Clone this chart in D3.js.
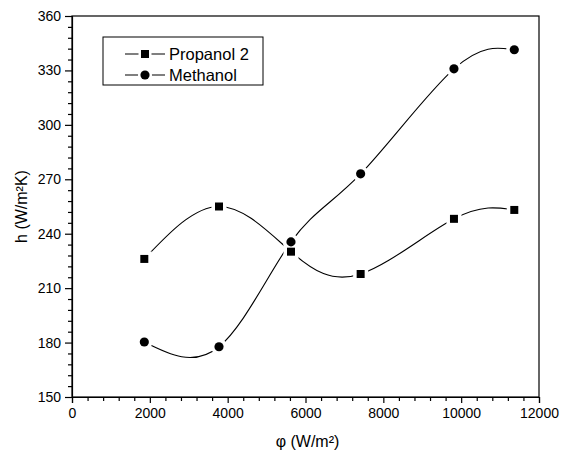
<!DOCTYPE html>
<html lang="en">
<head>
<meta charset="UTF-8">
<title>h vs heat flux</title>
<script src="https://cdn.jsdelivr.net/npm/d3@7"></script>
<style>
  body { margin: 0; background: #fff; }
  text { font-family: Arial, "Liberation Sans", sans-serif; fill: #000; }
  .curve { fill: none; stroke: #000; stroke-width: 1.1px; }
</style>
</head>
<body>
<script>
// data
var fluxValues = [1858, 3777, 5627, 7417, 9815, 11365];
var propanolValues = [226.1, 255.0, 230.1, 217.8, 248.2, 253.1];
var methanolValues = [180.3, 177.7, 235.5, 273.0, 330.9, 341.4];
var seriesNames = ["Propanol 2", "Methanol"];
var xTicks = [0, 2000, 4000, 6000, 8000, 10000, 12000];
var yTicks = [150, 180, 210, 240, 270, 300, 330, 360];

var W = 564, H = 454;
var margin = {top: 16, right: 25, bottom: 57, left: 72};
var width = W - margin.left - margin.right,
    height = H - margin.top - margin.bottom;

var x = d3.scaleLinear().domain([0, 12000]).range([0, width]);
var y = d3.scaleLinear().domain([150, 360]).range([height, 0]);

var svg = d3.select("body").append("svg")
    .attr("width", W).attr("height", H);
var g = svg.append("g")
    .attr("transform", "translate(" + margin.left + "," + margin.top + ")");

// frame
g.append("rect")
    .attr("width", width).attr("height", height)
    .attr("fill", "none").attr("stroke", "#000").attr("stroke-width", 1.2);

// x axis: major + minor ticks
var xMinor = d3.range(0, 12001, 400).filter(function(v) { return v % 2000 !== 0; });
var xAxis = g.append("g").attr("transform", "translate(0," + height + ")");
xAxis.call(d3.axisBottom(x).tickValues(xTicks).tickSize(6).tickPadding(5).tickFormat(d3.format("d")));
xAxis.append("g").call(d3.axisBottom(x).tickValues(xMinor).tickSize(4).tickFormat(""))
    .select(".domain").remove();

// y axis
var yMinor = d3.range(150, 361, 6).filter(function(v) { return (v - 150) % 30 !== 0; });
var yAxis = g.append("g");
yAxis.call(d3.axisLeft(y).tickValues(yTicks).tickSize(7).tickPadding(4));
yAxis.append("g").call(d3.axisLeft(y).tickValues(yMinor).tickSize(4).tickFormat(""))
    .select(".domain").remove();

g.selectAll(".domain").attr("stroke-width", 1.2);
g.selectAll(".tick line").attr("stroke-width", 1.2);
g.selectAll(".tick text").style("font-size", "14px").attr("fill", "#000");

// axis titles
svg.append("text")
    .attr("x", margin.left + width / 2 + 2).attr("y", 447)
    .attr("text-anchor", "middle").style("font-size", "16px")
    .text("φ (W/m²)");
svg.append("text")
    .attr("transform", "translate(27," + (margin.top + height / 2) + ") rotate(-90)")
    .attr("text-anchor", "middle").style("font-size", "16px")
    .text("h (W/m²K)");

// curves
var series = [
  {name: seriesNames[0], values: propanolValues, shape: d3.symbolSquare, size: 64},
  {name: seriesNames[1], values: methanolValues, shape: d3.symbolCircle, size: 66}
];

var line = d3.line()
    .x(function(d) { return x(d[0]); })
    .y(function(d) { return y(d[1]); })
    .curve(d3.curveNatural);

series.forEach(function(s) {
  g.append("path")
      .datum(d3.zip(fluxValues, s.values))
      .attr("class", "curve")
      .attr("d", line);
});

// white halos give the small gaps next to the markers
var halo = g.append("g"), marks = g.append("g");
series.forEach(function(s) {
  var pts = d3.zip(fluxValues, s.values);
  var sym = d3.symbol().type(s.shape).size(s.size);
  halo.selectAll(null).data(pts).enter().append("path")
      .attr("transform", function(d) { return "translate(" + x(d[0]) + "," + y(d[1]) + ")"; })
      .attr("d", sym).attr("fill", "#fff").attr("stroke", "#fff").attr("stroke-width", 7);
  marks.selectAll(null).data(pts).enter().append("path")
      .attr("transform", function(d) { return "translate(" + x(d[0]) + "," + y(d[1]) + ")"; })
      .attr("d", sym).attr("fill", "#000");
});

// legend
var leg = svg.append("g").attr("transform", "translate(103,37)");
leg.append("rect").attr("width", 160).attr("height", 48)
    .attr("fill", "#fff").attr("stroke", "#000").attr("stroke-width", 1);
series.forEach(function(s, i) {
  var row = leg.append("g").attr("transform", "translate(0," + (17 + i * 21) + ")");
  row.append("line").attr("x1", 22).attr("x2", 62).attr("stroke", "#000").attr("stroke-width", 1.1);
  row.append("path").attr("transform", "translate(42,0)")
      .attr("d", d3.symbol().type(s.shape).size(s.size)())
      .attr("fill", "#000").attr("stroke", "#fff").attr("stroke-width", 5)
      .style("paint-order", "stroke");
  row.append("text").attr("x", 66).attr("y", 6).style("font-size", "16.5px").text(s.name);
});
</script>
</body>
</html>
